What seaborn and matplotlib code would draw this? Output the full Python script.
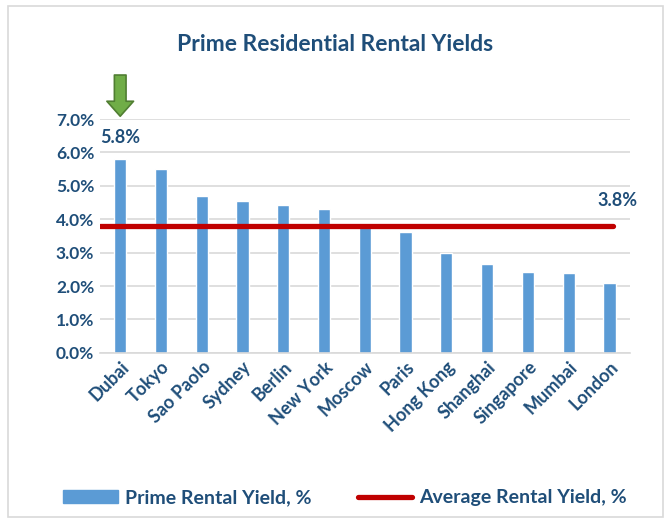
import pandas as pd
import numpy as np
import matplotlib
matplotlib.use("Agg")
import matplotlib.pyplot as plt
import seaborn as sns
from matplotlib.patches import Rectangle, Patch
from matplotlib.lines import Line2D

cities = ["Dubai", "Tokyo", "Sao Paolo", "Sydney", "Berlin", "New York", "Moscow",
          "Paris", "Hong Kong", "Shanghai", "Singapore", "Mumbai", "London"]
yields = [5.8, 5.5, 4.7, 4.55, 4.42, 4.3, 3.8, 3.62, 3.0, 2.65, 2.41, 2.39, 2.09]
avg_yield = 3.8

sns.set_theme(style="white")
plt.rcParams["font.family"] = ["Lato", "DejaVu Sans"]
navy = "#1F4E79"
blue = "#5B9BD5"
red = "#C00000"

df = pd.DataFrame({"City": cities, "Yield": yields})

fig = plt.figure(figsize=(6.7, 5.22), dpi=100)
ax = fig.add_axes([0.149, 0.324, 0.791, 0.448])

sns.barplot(data=df, x="City", y="Yield", color=blue, width=0.3, saturation=1, ax=ax)
ax.plot([-0.5, 12.1], [avg_yield, avg_yield], color=red, lw=3.8,
        solid_capstyle="round", zorder=5)

ax.set_xlim(-0.5, 12.5)
ax.set_ylim(0, 7)
ax.set_yticks(np.arange(0, 8, 1))
ax.set_yticklabels([f"{v:.1f}%" for v in np.arange(0, 8, 1)])
ax.yaxis.grid(True, color="#D9D9D9", lw=1.2)
ax.set_axisbelow(True)
for s in ["top", "right", "left"]:
    ax.spines[s].set_visible(False)
ax.spines["bottom"].set_color("#D9D9D9")
ax.spines["bottom"].set_linewidth(1.2)
ax.set_xlabel("")
ax.set_ylabel("")
ax.tick_params(axis="both", length=0, pad=4)
plt.setp(ax.get_xticklabels(), rotation=45, ha="right", rotation_mode="anchor",
         fontsize=13, fontweight="bold", color=navy)
plt.setp(ax.get_yticklabels(), fontsize=12.5, fontweight="bold", color=navy)

ax.text(0, 6.45, f"{yields[0]:.1f}%", ha="center", va="center", fontsize=13,
        fontweight="bold", color=navy)
ax.text(12.2, 4.57, f"{avg_yield:.1f}%", ha="center", va="center", fontsize=13,
        fontweight="bold", color=navy)

# green arrow above Dubai
ax.annotate("", xy=(0, 7.0), xytext=(0, 8.4), annotation_clip=False,
            arrowprops=dict(arrowstyle="simple,head_width=1.6,head_length=0.9,tail_width=0.7",
                            fc="#70AD47", ec="#507E32", lw=1.2))

fig.text(0.5, 0.915, "Prime Residential Rental Yields", ha="center", va="center",
         fontsize=16.5, fontweight="bold", color=navy)

handles = [Patch(color=blue), Line2D([0], [0], color=red, lw=3.8, solid_capstyle="round")]
fig.legend(handles, ["Prime Rental Yield, %", "Average Rental Yield, %"], loc="center",
           bbox_to_anchor=(0.515, 0.046), ncol=2, frameon=False, handlelength=2.8,
           handletextpad=0.35, columnspacing=2.4,
           prop={"weight": "bold", "size": 14}, labelcolor=navy)

fig.patches.append(Rectangle((0.012, 0.01), 0.978, 0.978, transform=fig.transFigure,
                             fill=False, ec="#D9D9D9", lw=1.2))

fig.savefig("out.png", dpi=100)
